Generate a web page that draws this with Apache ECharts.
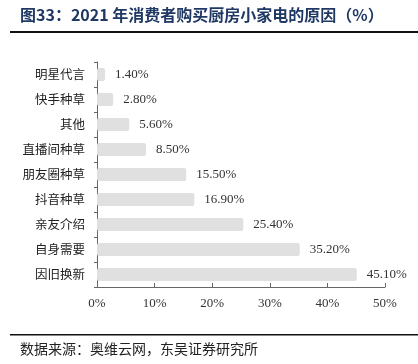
<!DOCTYPE html>
<html>
<head>
<meta charset="utf-8">
<script src="https://cdn.jsdelivr.net/npm/echarts@6/dist/echarts.min.js"></script>
<style>
  html, body { margin: 0; padding: 0; background: #fff; }
  #chart { width: 418px; height: 364px; }
</style>
</head>
<body>
<div id="chart"></div>
<script>
// 类别，自上而下
const categories = ['明星代言', '快手种草', '其他', '直播间种草', '朋友圈种草', '抖音种草', '亲友介绍', '自身需要', '因旧换新'];
// 占比（%）
const shares = [1.4, 2.8, 5.6, 8.5, 15.5, 16.9, 25.4, 35.2, 45.1];
const titleText = '图33：2021 年消费者购买厨房小家电的原因（%）';
const sourceText = '数据来源：奥维云网，东吴证券研究所';

const chart = echarts.init(document.getElementById('chart'));
chart.setOption({
  animation: false,
  backgroundColor: '#fff',
  grid: { left: 97, right: 33, top: 62, bottom: 77, containLabel: false },
  graphic: [
    {
      type: 'text', left: 20, top: 7,
      style: { text: titleText, fill: '#1f3864', font: 'bold 16px "Noto Sans CJK SC"' }
    },
    {
      type: 'rect', shape: { x: 10, y: 31, width: 408, height: 2 },
      style: { fill: '#111' }
    },
    {
      type: 'rect', shape: { x: 10, y: 334, width: 408, height: 1.5 },
      style: { fill: '#111' }
    },
    {
      type: 'text', left: 20, top: 342,
      style: { text: sourceText, fill: '#222', font: '14px "Noto Sans CJK SC"' }
    }
  ],
  xAxis: {
    type: 'value',
    min: 0,
    max: 50,
    interval: 10,
    splitLine: { show: false },
    axisLine: { show: true, lineStyle: { color: '#666', width: 1 } },
    axisTick: { show: true, inside: true, length: 4, lineStyle: { color: '#666' } },
    axisLabel: {
      formatter: '{value}%',
      margin: 10,
      color: '#333',
      fontFamily: 'Liberation Serif',
      fontSize: 13
    }
  },
  yAxis: {
    type: 'category',
    inverse: true,
    data: categories,
    axisLine: { show: true, lineStyle: { color: '#666', width: 1 } },
    axisTick: { show: true, length: 3, lineStyle: { color: '#666' } },
    axisLabel: {
      margin: 12,
      color: '#222',
      fontFamily: 'Noto Sans CJK SC',
      fontSize: 12.5
    }
  },
  series: [{
    type: 'bar',
    data: shares,
    barWidth: 13,
    itemStyle: { color: '#e0e0e0', borderRadius: 2 },
    label: {
      show: true,
      position: 'right',
      distance: 10,
      color: '#333',
      fontFamily: 'Liberation Serif',
      fontSize: 13,
      formatter: p => p.value.toFixed(2) + '%'
    }
  }]
});
</script>
</body>
</html>
